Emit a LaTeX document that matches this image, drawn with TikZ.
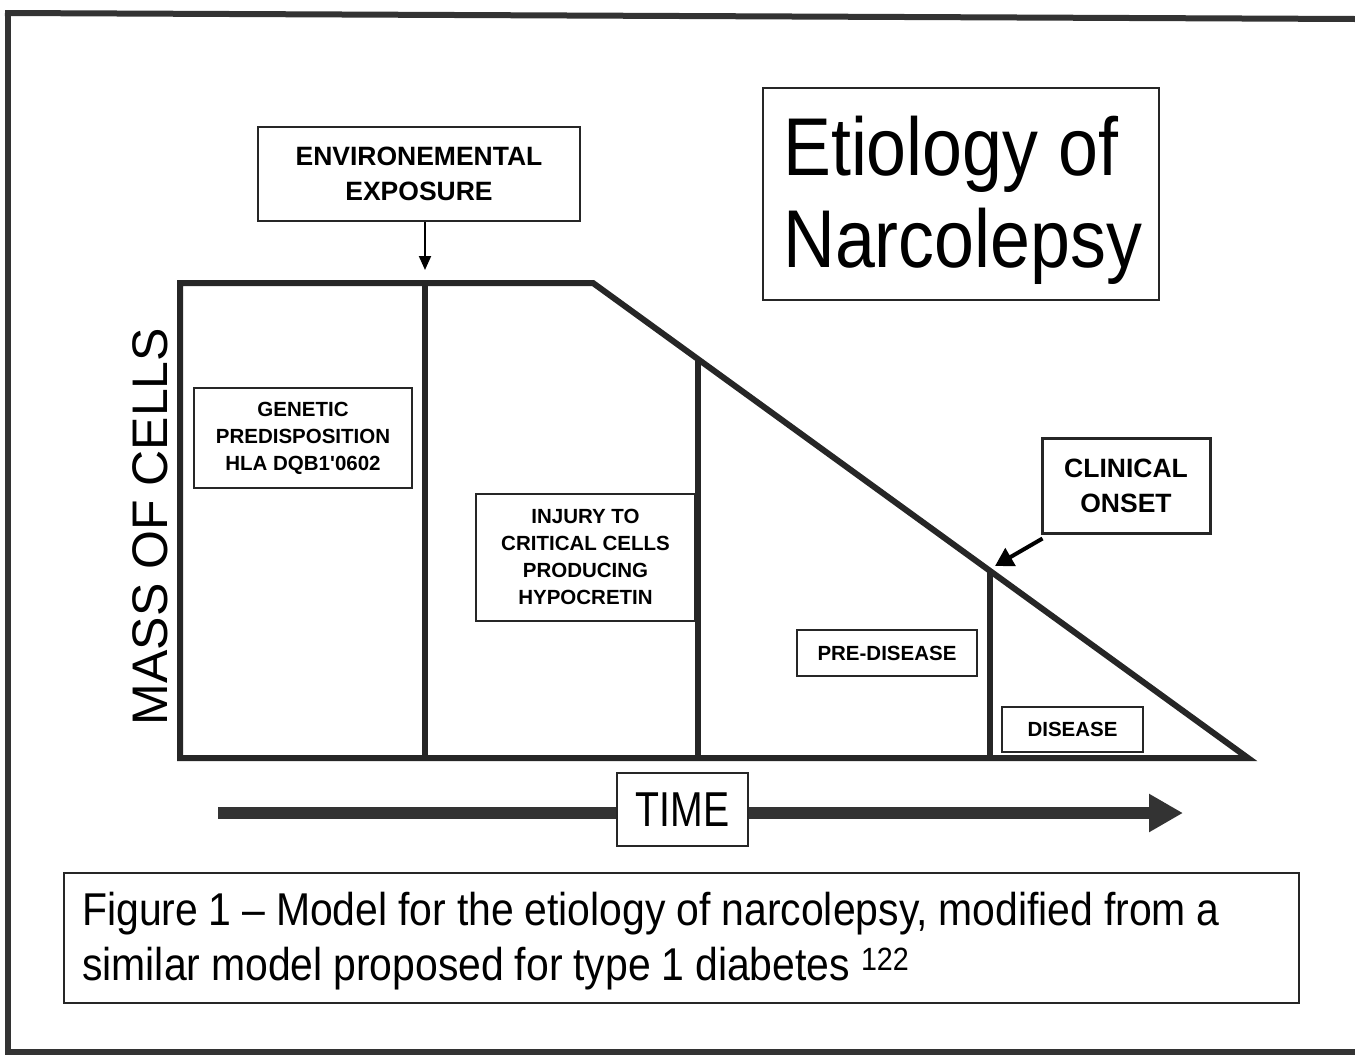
\documentclass[tikz,border=0pt]{standalone}
\usepackage{fontspec}
\setmainfont{Liberation Sans}
\newfontfamily\titlefont[FakeStretch=0.875]{Liberation Sans}
\newfontfamily\capfont[FakeStretch=0.89,WordSpace=0.95]{Liberation Sans}
\newfontfamily\narrowfont[FakeStretch=0.8]{Liberation Sans}
\usetikzlibrary{arrows.meta}
\begin{document}
\begin{tikzpicture}[x=1pt,y=-1pt,
  box/.style={draw=black!85, line width=2pt, fill=white, align=center, inner sep=0pt},
  heavy/.style={draw=black!85, line width=6pt, line join=miter},
  frameline/.style={draw=black!80, line width=6pt},
  lbl/.style={font=\bfseries\fontsize{20.5}{27}\selectfont},
  biglbl/.style={font=\bfseries\fontsize{26.5}{35}\selectfont},
  titletxt/.style={anchor=base west, inner sep=0pt, font=\titlefont\fontsize{82}{92}\selectfont},
  captxt/.style={anchor=base west, inner sep=0pt, font=\capfont\fontsize{46}{55}\selectfont}]
\useasboundingbox (0,0) rectangle (1355,1058);
\fill[white] (0,0) rectangle (1355,1058);
% page frame
\draw[frameline] (5,13) -- (1355,19);
\draw[frameline] (8,10) -- (8,1053);
\draw[frameline] (5,1052) -- (1355,1052);
% chart
\coordinate (tl) at (180,283);
\coordinate (tk) at (593,283);
\coordinate (br) at (1248,758);
\coordinate (bl) at (180,758);
\draw[heavy] (tl) -- (tk) -- (br) -- (bl) -- cycle;
\coordinate (d1t) at (425,283);
\coordinate (d1b) at (425,758);
\coordinate (d2t) at (698,359);
\coordinate (d2b) at (698,758);
\coordinate (d3t) at (990,571);
\coordinate (d3b) at (990,758);
\draw[heavy] (d1t) -- (d1b);
\draw[heavy] (d2t) -- (d2b);
\draw[heavy] (d3t) -- (d3b);
% title
\node[box, minimum width=396pt, minimum height=212pt] (title) at (961,194) {};
\node[titletxt] (title1) at (783,175) {Etiology of};
\node[titletxt] (title2) at (783,267) {Narcolepsy};
% environmental exposure
\node[box, biglbl, minimum width=322pt, minimum height=94pt] (env) at (419,174) {ENVIRONEMENTAL\\EXPOSURE};
\coordinate (envtip) at (425,270);
\draw[line width=2pt, -{Triangle[width=12pt,length=14pt]}] (env.south -| envtip) -- (envtip);
% labels in chart
\node[box, lbl, minimum width=218pt, minimum height=100pt] (gen) at (303,438) {GENETIC\\PREDISPOSITION\\HLA DQB1\textquotesingle 0602};
\node[box, lbl, minimum width=219pt, minimum height=127pt] (inj) at (585.5,557) {INJURY TO\\CRITICAL CELLS\\PRODUCING\\HYPOCRETIN};
\node[box, lbl, minimum width=180pt, minimum height=46pt] (pre) at (887,653) {PRE-DISEASE};
\node[box, lbl, minimum width=141pt, minimum height=45pt] (dis) at (1072.5,729.5) {DISEASE};
% clinical onset
\node[box, biglbl, line width=3pt, minimum width=168pt, minimum height=95pt] (clin) at (1126,485.5) {CLINICAL\\ONSET};
\coordinate (cliptip) at (995,566);
\draw[line width=4pt, -{Triangle[width=20pt,length=18pt]}] ([xshift=2pt,yshift=-4pt]clin.south west) -- (cliptip);
% axis label
\node[rotate=90, font=\fontsize{50}{52}\selectfont] (mass) at (150,526.5) {MASS OF CELLS};
% time arrow
\coordinate (ts) at (218,813);
\coordinate (te) at (1183,813);
\draw[draw=black!80, line width=12pt, -{Triangle[width=36pt,length=34pt]}] (ts) -- (te);
\node[box, line width=1.5pt, minimum width=131pt, minimum height=73pt, font=\narrowfont\fontsize{49}{50}\selectfont] (time) at (682.5,809.5) {TIME};
% caption
\node[box, line width=2pt, minimum width=1235pt, minimum height=130pt] (cap) at (681.5,938) {};
\node[captxt] (cap1) at (82,925) {Figure 1 – Model for the etiology of narcolepsy, modified from a};
\node[captxt] (cap2) at (82,980) {similar model proposed for type 1 diabetes \textsuperscript{122}};
\end{tikzpicture}
\end{document}
